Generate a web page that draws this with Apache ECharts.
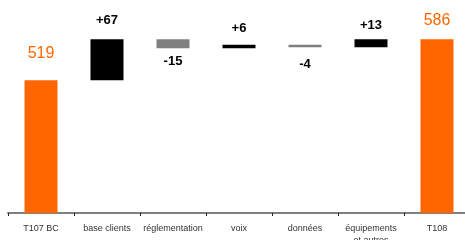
<!DOCTYPE html>
<html>
<head>
<meta charset="utf-8">
<script src="https://cdn.jsdelivr.net/npm/echarts@6/dist/echarts.min.js"></script>
<style>
html,body{margin:0;padding:0;background:#fff;}
#c{width:465px;height:240px;}
</style>
</head>
<body>
<div id="c"></div>
<script>
// Data
var categories = ['T107 BC', 'base clients', 'réglementation', 'voix', 'données', 'équipements\net autres', 'T108'];
var startTotal = 519;
var endTotal = 586;
var deltas = [67, -15, 6, -4, 13];
var axisMin = 302;
var axisMax = 650;

// Label placement (style, per category)
var labelGap = [19, 12, 7, 10, 11, 7, 11];

// Build waterfall series
var baseData = ['-'];
var posData = ['-'];
var negData = ['-'];
var totalData = [{value: startTotal, label: {distance: labelGap[0]}}];
var running = startTotal;
deltas.forEach(function (d, i) {
  var next = running + d;
  var g = labelGap[i + 1];
  baseData.push(Math.min(running, next));
  if (d >= 0) { posData.push({value: d, label: {distance: g}}); negData.push('-'); }
  else { negData.push({value: -d, label: {distance: g}}); posData.push('-'); }
  totalData.push('-');
  running = next;
});
baseData.push('-'); posData.push('-'); negData.push('-');
totalData.push({value: endTotal, label: {distance: labelGap[6]}});

var font = '"Liberation Sans", Arial, Helvetica, sans-serif';
var chart = echarts.init(document.getElementById('c'), null, {renderer: 'canvas'});
chart.setOption({
  animation: false,
  grid: {left: 8, top: 0, width: 462, bottom: 27, containLabel: false, outerBoundsMode: 'none'},
  xAxis: {
    type: 'category',
    data: categories,
    axisLine: {lineStyle: {color: '#808080', width: 2}},
    axisTick: {show: true, length: 3, lineStyle: {color: '#222', width: 1}},
    axisLabel: {fontSize: 9, color: '#333', fontFamily: font, margin: 10, lineHeight: 12, interval: 0}
  },
  yAxis: {type: 'value', min: axisMin, max: axisMax, show: false, splitLine: {show: false}},
  series: [
    {type: 'bar', stack: 'w', data: baseData, barWidth: '50%', itemStyle: {color: 'transparent'}, silent: true},
    {type: 'bar', stack: 'w', data: posData, barWidth: '50%', itemStyle: {color: '#000'},
      label: {show: true, position: 'top', color: '#000', fontWeight: 'bold', fontSize: 13, fontFamily: font,
        formatter: function (p) { return '+' + p.value; }}},
    {type: 'bar', stack: 'w', data: negData, barWidth: '50%', itemStyle: {color: '#808080'},
      label: {show: true, position: 'bottom', color: '#000', fontWeight: 'bold', fontSize: 13, fontFamily: font,
        formatter: function (p) { return '-' + p.value; }}},
    {type: 'bar', stack: 'w', data: totalData, barWidth: '50%', itemStyle: {color: '#FF6600'},
      label: {show: true, position: 'top', color: '#FF6600', fontSize: 16, fontFamily: font}}
  ]
});
</script>
</body>
</html>
